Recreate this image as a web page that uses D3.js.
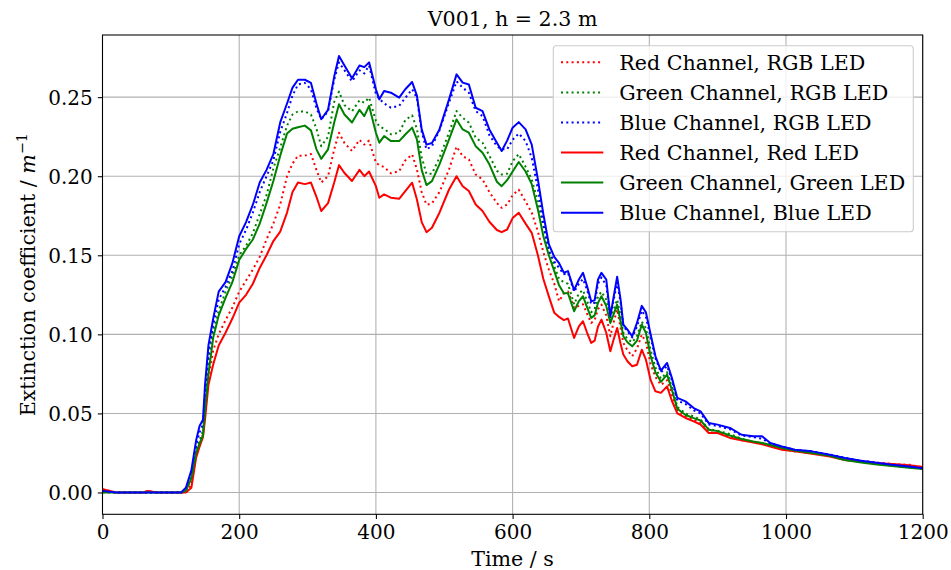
<!DOCTYPE html>
<html><head><meta charset="utf-8">
<script src="https://cdn.jsdelivr.net/npm/d3@7"></script>
<style>body{margin:0;background:#fff;} text{font-family:"DejaVu Serif",serif;}</style>
</head><body>
<svg id="chart" width="951" height="570"></svg>
<script>
const title = "V001, h = 2.3 m";
const xTicks = [0, 200, 400, 600, 800, 1000, 1200];
const yTicks = [0.00, 0.05, 0.10, 0.15, 0.20, 0.25];
const seriesNames = ["Red Channel, RGB LED","Green Channel, RGB LED","Blue Channel, RGB LED","Red Channel, Red LED","Green Channel, Green LED","Blue Channel, Blue LED"];
const times = [0,20,40,60,66,80,100,115,122,130,137,142,147,150,155,162,170,180,190,200,210,220,230,240,250,260,270,278,286,296,305,313,320,330,339,346,354,365,376,383,390,400,405,412,422,434,443,453,460,467,474,482,493,507,518,527,536,546,556,566,577,584,592,600,609,619,628,637,645,653,661,668,675,681,690,697,703,709,715,720,725,730,737,743,748,753,758,762,768,775,782,789,795,802,809,817,826,833,841,853,865,875,887,900,918,935,952,965,977,994,1013,1038,1064,1086,1110,1130,1155,1180,1200];
const redRGB   = [0.002,0.000,0.000,0.000,0.001,0.000,0.000,0.000,0.000,0.005,0.024,0.030,0.037,0.050,0.072,0.090,0.100,0.109,0.117,0.127,0.134,0.141,0.149,0.160,0.170,0.182,0.200,0.208,0.213,0.213,0.214,0.204,0.196,0.200,0.217,0.2275,0.221,0.216,0.223,0.220,0.2225,0.2085,0.207,0.2058,0.2018,0.2032,0.2100,0.2138,0.2043,0.190,0.182,0.1828,0.190,0.2043,0.2187,0.2127,0.2106,0.2011,0.198,0.190,0.183,0.180,0.1821,0.188,0.1915,0.184,0.177,0.165,0.152,0.141,0.132,0.121,0.126,0.127,0.1167,0.118,0.119,0.113,0.1072,0.109,0.116,0.1188,0.112,0.0988,0.108,0.1157,0.104,0.0946,0.090,0.0861,0.091,0.0998,0.095,0.081,0.073,0.068,0.071,0.062,0.052,0.048,0.046,0.044,0.038,0.038,0.035,0.033,0.032,0.031,0.030,0.028,0.026,0.025,0.0235,0.0215,0.020,0.019,0.018,0.0175,0.016];
const greenRGB = [0.000,0.000,0.000,0.000,0.000,0.000,0.000,0.000,0.001,0.010,0.027,0.033,0.039,0.057,0.083,0.102,0.115,0.127,0.137,0.150,0.156,0.164,0.176,0.188,0.205,0.218,0.232,0.239,0.241,0.241,0.239,0.230,0.219,0.225,0.247,0.2535,0.245,0.241,0.248,0.2465,0.2497,0.235,0.2315,0.230,0.2265,0.2275,0.2355,0.2385,0.230,0.212,0.2015,0.2016,0.2117,0.2275,0.2412,0.237,0.2339,0.2243,0.2212,0.213,0.2035,0.2011,0.2016,0.2095,0.214,0.206,0.198,0.184,0.168,0.153,0.143,0.135,0.133,0.132,0.119,0.126,0.128,0.121,0.114,0.116,0.124,0.127,0.122,0.110,0.116,0.122,0.112,0.101,0.097,0.095,0.099,0.108,0.104,0.090,0.079,0.072,0.076,0.067,0.054,0.050,0.048,0.046,0.040,0.039,0.037,0.034,0.032,0.031,0.030,0.028,0.026,0.025,0.023,0.021,0.0195,0.018,0.017,0.016,0.015];
const blueRGB  = [0.001,0.000,0.000,0.000,0.000,0.000,0.000,0.000,0.002,0.012,0.030,0.038,0.043,0.062,0.088,0.106,0.122,0.130,0.140,0.157,0.166,0.177,0.190,0.200,0.210,0.228,0.240,0.251,0.258,0.259,0.255,0.243,0.236,0.241,0.261,0.272,0.267,0.260,0.267,0.265,0.270,0.252,0.249,0.246,0.2433,0.2445,0.2495,0.255,0.2495,0.228,0.217,0.219,0.229,0.2465,0.260,0.256,0.2528,0.2412,0.238,0.226,0.219,0.217,0.217,0.223,0.227,0.2222,0.2117,0.192,0.170,0.153,0.146,0.142,0.138,0.139,0.127,0.132,0.135,0.128,0.119,0.120,0.132,0.136,0.131,0.112,0.122,0.133,0.120,0.105,0.102,0.098,0.105,0.115,0.111,0.098,0.085,0.076,0.080,0.071,0.058,0.056,0.052,0.050,0.043,0.042,0.040,0.036,0.035,0.034,0.031,0.029,0.027,0.026,0.024,0.022,0.020,0.019,0.0175,0.0165,0.0155];
const redLED   = [0.002,0.000,0.000,0.000,0.001,0.000,0.000,0.000,0.000,0.003,0.022,0.029,0.035,0.046,0.068,0.081,0.093,0.101,0.110,0.120,0.125,0.132,0.142,0.150,0.159,0.165,0.177,0.190,0.196,0.195,0.196,0.187,0.178,0.183,0.196,0.207,0.202,0.197,0.204,0.200,0.203,0.1937,0.1864,0.1885,0.1864,0.1857,0.1906,0.1959,0.1853,0.171,0.1646,0.1674,0.1769,0.1916,0.200,0.1937,0.1906,0.1821,0.178,0.1712,0.166,0.1646,0.1663,0.1735,0.1769,0.170,0.1642,0.150,0.135,0.124,0.1136,0.111,0.109,0.110,0.0977,0.105,0.1083,0.101,0.0946,0.096,0.105,0.1093,0.101,0.0893,0.097,0.104,0.094,0.0872,0.083,0.0798,0.0808,0.0903,0.084,0.071,0.064,0.063,0.0671,0.058,0.050,0.0471,0.045,0.043,0.0376,0.0376,0.0345,0.033,0.0316,0.0305,0.029,0.027,0.026,0.0245,0.0228,0.0205,0.0195,0.0186,0.018,0.0172,0.0162];
const greenLED = [0.000,0.000,0.000,0.000,0.000,0.000,0.000,0.000,0.001,0.009,0.025,0.031,0.036,0.052,0.075,0.098,0.112,0.123,0.133,0.147,0.154,0.160,0.170,0.183,0.197,0.213,0.227,0.230,0.231,0.232,0.229,0.217,0.211,0.217,0.234,0.2455,0.239,0.234,0.242,0.238,0.2445,0.2275,0.2212,0.2254,0.2222,0.2222,0.2264,0.2307,0.2233,0.204,0.1944,0.1969,0.2075,0.2233,0.2359,0.2296,0.2275,0.219,0.2149,0.2075,0.1965,0.1937,0.1975,0.203,0.209,0.203,0.195,0.179,0.162,0.150,0.140,0.131,0.126,0.126,0.1146,0.121,0.1241,0.117,0.1104,0.112,0.120,0.1241,0.118,0.1072,0.113,0.1188,0.108,0.0988,0.095,0.0924,0.096,0.1062,0.1009,0.0861,0.076,0.070,0.0745,0.065,0.053,0.049,0.047,0.0455,0.0397,0.0388,0.036,0.0338,0.0322,0.0313,0.030,0.0281,0.0265,0.025,0.0232,0.0205,0.019,0.0178,0.0168,0.0156,0.0148];
const blueLED  = [0.001,0.000,0.000,0.000,0.000,0.000,0.000,0.000,0.003,0.014,0.033,0.042,0.046,0.068,0.093,0.110,0.127,0.133,0.145,0.162,0.171,0.182,0.196,0.204,0.214,0.234,0.246,0.256,0.261,0.261,0.259,0.246,0.236,0.242,0.263,0.276,0.270,0.262,0.270,0.269,0.272,0.255,0.2486,0.2539,0.2528,0.2497,0.255,0.2596,0.251,0.2296,0.220,0.221,0.2296,0.2486,0.2644,0.2592,0.258,0.2433,0.2412,0.2296,0.2212,0.2159,0.2225,0.2307,0.2342,0.2296,0.220,0.198,0.176,0.157,0.149,0.145,0.139,0.140,0.128,0.1347,0.1389,0.1304,0.1209,0.1215,0.1347,0.1389,0.1347,0.1114,0.1241,0.1364,0.122,0.1062,0.103,0.0988,0.1072,0.118,0.114,0.100,0.0861,0.077,0.0819,0.0725,0.0598,0.0576,0.0534,0.0513,0.0439,0.0429,0.0408,0.0365,0.0355,0.0355,0.0313,0.0291,0.027,0.026,0.0239,0.0218,0.020,0.019,0.0175,0.0165,0.0154];
const seriesValues = [redRGB, greenRGB, blueRGB, redLED, greenLED, blueLED];
const seriesColors = ["#ff0000","#008000","#0000ff","#ff0000","#008000","#0000ff"];
const seriesDotted = [true,true,true,false,false,false];

const svg = d3.select("#chart");
const L = 102.5, R = 922.7, T = 35, B = 514.3;
const x = d3.scaleLinear().domain([0,1200]).range([L,R]);
const y = d3.scaleLinear().domain([-0.0138,0.2893]).range([B,T]);
const FS = 20, FL = 20.6;

// grid
const grid = svg.append("g");
xTicks.forEach(t => grid.append("line").attr("x1",x(t)).attr("x2",x(t)).attr("y1",T).attr("y2",B).attr("stroke","#b0b0b0").attr("stroke-width",1.07));
yTicks.forEach(t => grid.append("line").attr("x1",L).attr("x2",R).attr("y1",y(t)).attr("y2",y(t)).attr("stroke","#b0b0b0").attr("stroke-width",1.07));

// lines
const defs = svg.append("defs");
defs.append("clipPath").attr("id","clip").append("rect").attr("x",L).attr("y",T).attr("width",R-L).attr("height",B-T);
const line = d3.line().x(d=>x(d[0])).y(d=>y(d[1]));
const lg = svg.append("g").attr("clip-path","url(#clip)");
seriesValues.forEach((vals,i)=>{
  lg.append("path").datum(times.map((t,j)=>[t,vals[j]]))
    .attr("d",line).attr("fill","none").attr("stroke",seriesColors[i])
    .attr("stroke-width",2).attr("stroke-linejoin","round")
    .attr("stroke-linecap", seriesDotted[i] ? "butt" : "square")
    .attr("stroke-dasharray", seriesDotted[i] ? "2,3.3" : null);
});

// axes
const xAxis = d3.axisBottom(x).tickValues(xTicks).tickSize(4.7).tickPadding(4).tickFormat(d3.format("d"));
const yAxis = d3.axisLeft(y).tickValues(yTicks).tickSize(4.7).tickPadding(5).tickFormat(d3.format(".2f"));
const gx = svg.append("g").attr("transform",`translate(0,${B})`).call(xAxis);
const gy = svg.append("g").attr("transform",`translate(${L},0)`).call(yAxis);
[gx,gy].forEach(g=>{
  g.select(".domain").remove();
  g.selectAll(".tick line").attr("stroke","#000").attr("stroke-width",1.07);
  g.selectAll(".tick text").attr("font-family","DejaVu Serif").attr("font-size",FS).attr("fill","#000");
});
gy.selectAll(".tick text").attr("dy","0.36em");
gx.selectAll(".tick text").attr("dy","0.8em");
// frame
svg.append("rect").attr("x",L).attr("y",T).attr("width",R-L).attr("height",B-T).attr("fill","none").attr("stroke","#000").attr("stroke-width",1.07);

// title & labels
svg.append("text").attr("x",(L+R)/2).attr("y",26).attr("text-anchor","middle").attr("font-size",FL).text(title);
svg.append("text").attr("x",(L+R)/2).attr("y",566).attr("text-anchor","middle").attr("font-size",FL).text("Time / s");
const yl = svg.append("text").attr("transform",`translate(35,${(T+B)/2}) rotate(-90)`).attr("text-anchor","middle").attr("font-size",FL);
yl.append("tspan").text("Extinction coefficient / ");
yl.append("tspan").attr("font-style","italic").text("m");
yl.append("tspan").attr("font-size",FL*0.7).attr("dy",-8).text("−1");

// legend
const lgX = 553.3, lgY = 45.7, lgW = 360, lgH = 186;
svg.append("rect").attr("x",lgX).attr("y",lgY).attr("width",lgW).attr("height",lgH).attr("rx",3).attr("fill","#fff").attr("fill-opacity",0.8).attr("stroke","#cccccc").attr("stroke-width",1.07);
seriesNames.forEach((n,i)=>{
  const cy = 62.3 + i*30.08;
  svg.append("line").attr("x1",561).attr("x2",603.3).attr("y1",cy).attr("y2",cy)
    .attr("stroke",seriesColors[i]).attr("stroke-width",2)
    .attr("stroke-dasharray", seriesDotted[i] ? "2,3.3" : null);
  svg.append("text").attr("x",619.3).attr("y",cy).attr("dy","0.36em").attr("font-size",FL).text(n);
});
</script>
</body></html>
